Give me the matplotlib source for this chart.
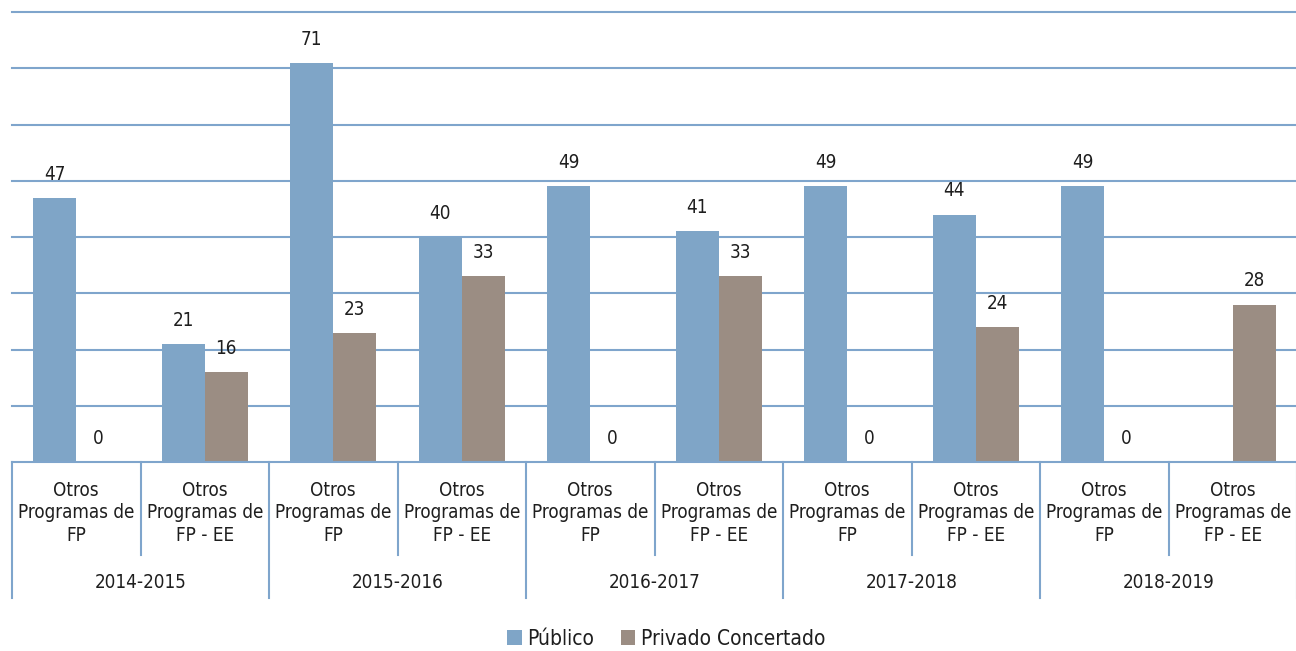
import numpy as np
import matplotlib
matplotlib.use("Agg")
import matplotlib.pyplot as plt
from matplotlib.patches import Patch

plt.rcParams['font.family'] = ['DejaVu Sans']
plt.rcParams['font.stretch'] = 'condensed'

years = ["2014-2015", "2015-2016", "2016-2017", "2017-2018", "2018-2019"]
categories = ["Otros\nProgramas de\nFP", "Otros\nProgramas de\nFP - EE"] * 5
publico = [47, 21, 71, 40, 49, 41, 49, 44, 49, np.nan]
privado = [0, 16, 23, 33, 0, 33, 0, 24, 0, 28]
series_names = ["Público", "Privado Concertado"]

c_blue = "#7FA5C7"
c_gray = "#9B8D83"
c_grid = "#7FA5CC"
c_text = "#1e1e1e"

W, H = 1296, 651
fig = plt.figure(figsize=(W / 100, H / 100), dpi=100)
ax = fig.add_axes([12 / W, (H - 462) / H, 1285 / W, 450 / H])

x = np.arange(len(categories))
bw = 0.335
off = 0.1675
ax.bar(x - off, publico, bw, color=c_blue, zorder=3)
ax.bar(x + off, privado, bw, color=c_gray, zorder=3)

for xi, v in zip(x, publico):
    if not np.isnan(v):
        ax.annotate(f"{v:.0f}", (xi - off, v), xytext=(0, 13), textcoords="offset points",
                    ha="center", va="baseline", fontsize=13.5, color=c_text)
for xi, v in zip(x, privado):
    ax.annotate(f"{v:.0f}", (xi + off, v), xytext=(0, 13), textcoords="offset points",
                ha="center", va="baseline", fontsize=13.5, color=c_text)

ax.set_xlim(-0.5, len(categories) - 0.5)
ax.set_ylim(0, 80)
ax.set_yticks(np.arange(10, 81, 10))
ax.yaxis.grid(True, color=c_grid, linewidth=1.5, zorder=0)
for gl in ax.get_ygridlines():
    gl.set_clip_on(False)
ax.set_axisbelow(True)
ax.tick_params(left=False, labelleft=False, bottom=False, labelbottom=False)
for s in ["left", "right", "top"]:
    ax.spines[s].set_visible(False)
ax.spines["bottom"].set_color(c_grid)
ax.spines["bottom"].set_linewidth(1.5)
ax.spines["bottom"].set_zorder(4)

trans = ax.get_xaxis_transform()
for i, lab in enumerate(categories):
    ax.text(i, -0.113, lab, transform=trans, ha="center", va="center",
            fontsize=13.5, color=c_text, linespacing=1.25)
for b in range(len(categories) + 1):
    edge = b - 0.5
    ylow = -0.302 if b % 2 == 0 else -0.207
    ax.plot([edge, edge], [0, ylow], transform=trans, color=c_grid, lw=1.5, clip_on=False)
for g, yr in enumerate(years):
    ax.text(2 * g + 0.5, -0.267, yr, transform=trans, ha="center", va="center",
            fontsize=13.5, color=c_text)

handles = [Patch(facecolor=c_blue), Patch(facecolor=c_gray)]
fig.legend(handles, series_names, loc="center", bbox_to_anchor=(666 / W, 12 / H),
           ncol=2, frameon=False, fontsize=15, handlelength=0.7, handleheight=0.7,
           handletextpad=0.25, columnspacing=1.3, labelcolor=c_text)

fig.savefig("out.png", dpi=100)
